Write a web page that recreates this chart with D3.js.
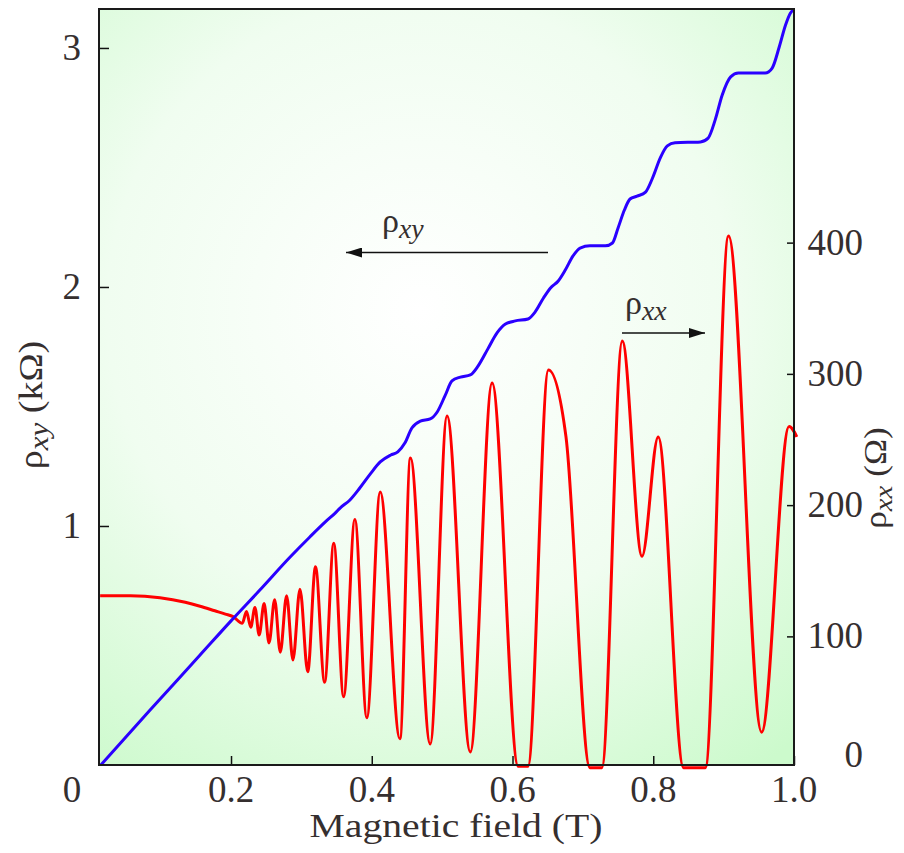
<!DOCTYPE html>
<html><head><meta charset="utf-8">
<script src="https://cdn.jsdelivr.net/npm/d3@7/dist/d3.min.js"></script>
<style>body{margin:0;background:#fff}svg{display:block}</style>
</head><body><svg id="c" width="904" height="853" font-family="'Liberation Serif', 'Times New Roman', Times, serif"></svg>
<script>
// ---- data ----
const fieldTicks = [0.2, 0.4, 0.6, 0.8, 1.0];
const fieldTickLabels = ["0.2", "0.4", "0.6", "0.8", "1.0"];
const rhoXYTicks = [1, 2, 3];
const rhoXXTicks = [0, 100, 200, 300, 400];

// Hall resistivity rho_xy (kOhm) vs field (T)
const xyField = [0.015,0.085,0.156,0.200,0.241,0.284,0.312,0.334,0.348,0.355,0.369,0.383,0.398,0.412,0.427,0.437,0.447,0.457,0.469,0.483,0.493,0.504,0.514,0.526,0.540,0.551,0.565,0.578,0.590,0.604,0.622,0.632,0.644,0.654,0.665,0.675,0.686,0.696,0.710,0.732,0.742,0.750,0.759,0.767,0.777,0.789,0.799,0.810,0.820,0.831,0.867,0.878,0.888,0.898,0.910,0.921,0.959,0.969,0.979,0.988,0.995,1.000];
const xyValue = [0.000,0.230,0.460,0.603,0.732,0.870,0.954,1.017,1.054,1.075,1.109,1.159,1.218,1.268,1.297,1.310,1.347,1.410,1.439,1.448,1.477,1.544,1.607,1.623,1.632,1.669,1.741,1.808,1.845,1.858,1.866,1.895,1.954,1.996,2.025,2.071,2.130,2.163,2.172,2.172,2.184,2.247,2.322,2.368,2.380,2.397,2.456,2.540,2.590,2.603,2.607,2.623,2.699,2.803,2.879,2.895,2.895,2.916,3.004,3.096,3.146,3.163];

// Longitudinal resistivity rho_xx (Ohm) vs field (T)
const xxField = [0.014,0.057,0.099,0.135,0.156,0.177,0.192,0.203,0.216,0.222,0.228,0.234,0.240,0.247,0.254,0.262,0.270,0.279,0.288,0.298,0.309,0.320,0.333,0.346,0.360,0.376,0.393,0.412,0.440,0.455,0.483,0.507,0.540,0.571,0.608,0.622,0.651,0.676,0.710,0.727,0.756,0.784,0.807,0.843,0.874,0.907,0.954,0.993,1.004];
const xxValue = [131,131,129.5,126,123,119.5,117,115,110,119,107,122,101,125,95,128,88,131,82,136,73,153,65,171,54,189,38,210,22,236,18,268,12,293,1,1,303,252,0,0,325,161,252,0,0,405,27,260,252];

// ---- layout ----
const svg = d3.select("#c");
const L = 99, R = 794, T = 9, B = 765;
const ink = "#352f2f";
const x = d3.scaleLinear().domain([0.0124, 1.0]).range([L, R]);
const yL = d3.scaleLinear().domain([0, 3.163]).range([B, T]);
const yR = d3.scaleLinear().domain([2, 578]).range([B, T]);

// background gradient
const defs = svg.append("defs");
const g = defs.append("radialGradient").attr("id", "bg")
  .attr("gradientUnits", "userSpaceOnUse")
  .attr("cx", 420).attr("cy", 310).attr("r", 570);
g.append("stop").attr("offset", 0).attr("stop-color", "#ffffff");
g.append("stop").attr("offset", 0.55).attr("stop-color", "#f0fdf0");
g.append("stop").attr("offset", 1).attr("stop-color", "#ccfacc");
defs.append("marker").attr("id", "ah").attr("viewBox", "0 0 16 10")
  .attr("refX", 16).attr("refY", 5).attr("markerWidth", 16).attr("markerHeight", 10)
  .attr("markerUnits", "userSpaceOnUse").attr("orient", "auto")
  .append("path").attr("d", "M0,0 L16,5 L0,10 Z").attr("fill", "#111");

svg.append("rect").attr("x", L).attr("y", T).attr("width", R - L).attr("height", B - T)
  .attr("fill", "url(#bg)");

// curves
const lineXY = d3.line().x((d, i) => x(xyField[i])).y(d => yL(d)).curve(d3.curveMonotoneX);
const lineXX = d3.line().x((d, i) => x(xxField[i])).y(d => yR(d)).curve(d3.curveMonotoneX);
svg.append("path").attr("d", lineXX(xxValue)).attr("fill", "none")
  .attr("stroke", "#ff0000").attr("stroke-width", 3).attr("stroke-linejoin", "round");
svg.append("path").attr("d", lineXY(xyValue)).attr("fill", "none")
  .attr("stroke", "#2a00ff").attr("stroke-width", 3).attr("stroke-linejoin", "round");

// axes (ticks inward)
const axB = d3.axisBottom(x).tickValues(fieldTicks).tickSize(-9).tickFormat("");
const axL = d3.axisLeft(yL).tickValues(rhoXYTicks).tickSize(-10).tickFormat("");
const axR = d3.axisRight(yR).tickValues(rhoXXTicks.filter(v => v > 0)).tickSize(-7).tickFormat("");
[[axB, `translate(0,${B})`], [axL, `translate(${L},0)`], [axR, `translate(${R},0)`]].forEach(([a, t]) => {
  const gg = svg.append("g").attr("transform", t).call(a);
  gg.select(".domain").remove();
  gg.selectAll("line").attr("stroke", "#111").attr("stroke-width", 1.5);
});
svg.append("rect").attr("x", L).attr("y", T).attr("width", R - L).attr("height", B - T)
  .attr("fill", "none").attr("stroke", "#1a1a1a").attr("stroke-width", 2);

const txt = (xx, yy, s, anchor) => svg.append("text").attr("x", xx).attr("y", yy)
  .attr("text-anchor", anchor || "start").attr("font-size", s).attr("fill", ink)
  .attr("font-family", "'Liberation Serif', 'Times New Roman', Times, serif");

// tick labels
const fs = 37;
fieldTicks.forEach((v, i) => {
  txt(x(v), 802, fs, "middle").text(fieldTickLabels[i]);
});
txt(72, 802, fs, "middle").text("0");
rhoXYTicks.forEach(v => { txt(81, yL(v) + 12, fs, "end").text(v); });
rhoXXTicks.forEach(v => { txt(863, Math.min(yR(v) + 12, 767), fs, "end").text(v); });

// axis titles
txt(456, 837, 34, "middle").attr("textLength", 293).attr("lengthAdjust", "spacingAndGlyphs")
  .text("Magnetic field (T)");

function rhoLabel(sel, sub, rest, size) {
  sel.append("tspan").text("ρ");
  sel.append("tspan").attr("font-style", "italic").attr("font-size", size * 0.82).attr("dy", size * 0.18).text(sub);
  if (rest) sel.append("tspan").attr("dy", -size * 0.18).text(rest);
}
const tL = txt(0, 0, 33, "middle").attr("transform", "translate(42,405) rotate(-90) scale(1.15,1)");
rhoLabel(tL, "xy", " (kΩ)", 33);
const tR = txt(0, 0, 32, "middle").attr("transform", "translate(886,478) rotate(-90) scale(1.1,1)");
rhoLabel(tR, "xx", " (Ω)", 32);

// annotations
const a1 = txt(382, 232, 34);
rhoLabel(a1, "xy", null, 34);
svg.append("line").attr("x1", 548).attr("x2", 346).attr("y1", 252.5).attr("y2", 252.5)
  .attr("stroke", "#111").attr("stroke-width", 1.6).attr("marker-end", "url(#ah)");
const a2 = txt(625, 314, 34);
rhoLabel(a2, "xx", null, 34);
svg.append("line").attr("x1", 622).attr("x2", 705).attr("y1", 333).attr("y2", 333)
  .attr("stroke", "#111").attr("stroke-width", 1.6).attr("marker-end", "url(#ah)");
</script></body></html>
